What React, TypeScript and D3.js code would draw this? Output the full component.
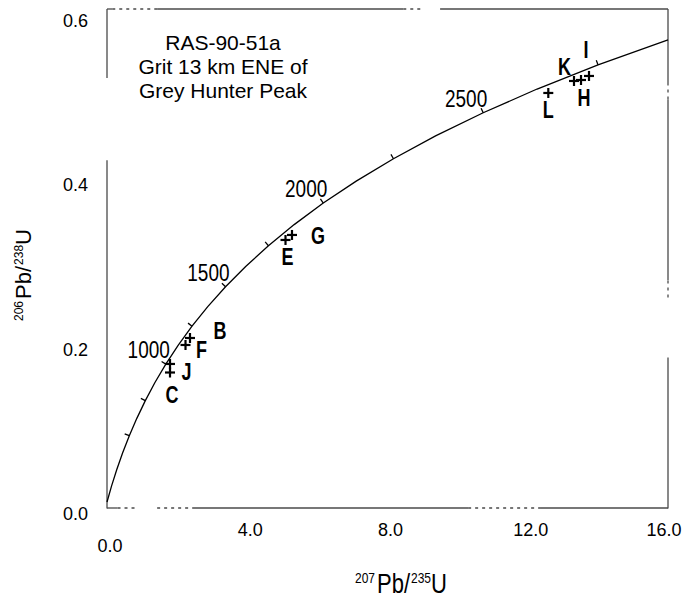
import React from "react";
import * as d3 from "d3";

// Concordia curve vertices (207Pb/235U, 206Pb/238U) by age (Ma)
const concordiaAges = [0, 125, 250, 375, 500, 625, 750, 875, 1000, 1125, 1250, 1375, 1500, 1625, 1750, 1875, 2000, 2125, 2250, 2375, 2500, 2625, 2750, 2877];
const concordiaX = [0, 0.131, 0.2792, 0.4468, 0.6362, 0.8507, 1.0931, 1.3673, 1.6774, 2.0282, 2.4249, 2.8736, 3.381, 3.9549, 4.6041, 5.3382, 6.1685, 7.1077, 8.1698, 9.3711, 10.7297, 12.2663, 14.0043, 16.0];
const concordiaY = [0, 0.0196, 0.0395, 0.0599, 0.0807, 0.1018, 0.1234, 0.1454, 0.1678, 0.1907, 0.214, 0.2378, 0.262, 0.2867, 0.3119, 0.3376, 0.3638, 0.3905, 0.4177, 0.4455, 0.4737, 0.5026, 0.532, 0.5624];

const tickAges = [500, 750, 1000, 1250, 1500, 1750, 2000, 2250, 2500, 2750];
const labelAges = [1000, 1500, 2000, 2500];

// Analyses
const pointNames = ["C", "J", "F", "B", "E", "G", "L", "K", "H", "I"];
const pointX = [1.797, 1.797, 2.239, 2.367, 5.091, 5.276, 12.586, 13.319, 13.519, 13.747];
const pointY = [0.1576, 0.168, 0.1911, 0.1996, 0.3189, 0.325, 0.4978, 0.5124, 0.5136, 0.5185];

const xTicks = [0, 4, 8, 12, 16];
const yTicks = [0, 0.2, 0.4, 0.6];

const titleLines = ["RAS-90-51a", "Grit 13 km ENE of", "Grey Hunter Peak"];

// label offsets (px) relative to each analysis marker
const labelOffset: Record<string, [number, number]> = {
  C: [2, 22.5], J: [16.5, 7.5], F: [16, 4.5], B: [30, -7], E: [2, 16.5],
  G: [26, 1], L: [0, 17], K: [-9.5, -14.5], H: [3, 18], I: [-3, -26],
};

const FONT = "'Liberation Sans', Arial, Helvetica, sans-serif";

type Seg = [number, number, boolean]; // from, to (axis units), dotted?

// worn-scan frame pieces, in axis units
const topSegs: Seg[] = [[0, 0.15, false], [0.15, 1.43, true], [1.43, 8.45, false], [8.45, 9.0, true], [9.5, 16, false]];
const bottomSegs: Seg[] = [[0, 0.3, false], [0.3, 0.85, true], [1.43, 2.45, true], [2.45, 10.3, false], [10.3, 12.35, true], [12.35, 16, false]];
const leftSegs: Seg[] = [[-0.008, 0.416, false], [0.516, 0.6, false]];
const rightSegs: Seg[] = [[-0.008, 0.176, false], [0.249, 0.27, true], [0.27, 0.49, false], [0.49, 0.51, true], [0.51, 0.6, false]];

export default function App() {
  const W = 683, H = 600;
  const left = 107, right = 668, top = 9;
  const x = d3.scaleLinear().domain([0, 16]).range([left, right]);
  const y = d3.scaleLinear().domain([0, 0.6]).range([502, top]);

  const pts: [number, number][] = concordiaX.map((v, i) => [v, concordiaY[i]]);
  const line = d3.line<[number, number]>().x(d => x(d[0])).y(d => y(d[1])).curve(d3.curveLinear);

  const tickMarks = tickAges.map(a => {
    const i = concordiaAges.indexOf(a);
    const px = x(concordiaX[i]), py = y(concordiaY[i]);
    const tx = x(concordiaX[i + 1]) - x(concordiaX[i - 1]);
    const ty = y(concordiaY[i + 1]) - y(concordiaY[i - 1]);
    const len = Math.hypot(tx, ty);
    const nx = ty / len, ny = -tx / len;
    return { a, px, py, nx, ny };
  });

  const yb = y(-0.0073);
  const frame = [
    ...topSegs.map(([a, b, d], i) => ({ k: "t" + i, x1: x(a), y1: top, x2: x(b), y2: top, d })),
    ...bottomSegs.map(([a, b, d], i) => ({ k: "b" + i, x1: x(a), y1: yb, x2: x(b), y2: yb, d })),
    ...leftSegs.map(([a, b, d], i) => ({ k: "l" + i, x1: left, y1: y(a), x2: left, y2: y(b), d })),
    ...rightSegs.map(([a, b, d], i) => ({ k: "r" + i, x1: right, y1: y(a), x2: right, y2: y(b), d })),
  ];

  return (
    <svg width={W} height={H} style={{ position: "absolute", left: 0, top: 0, background: "#fff" }} fontFamily={FONT}>
      <rect x={0} y={0} width={W} height={H} fill="#fff" />
      {/* frame */}
      <g stroke="#4a4a4a" strokeWidth={1.3} fill="none">
        {frame.map(s => (
          <line key={s.k} x1={s.x1} y1={s.y1} x2={s.x2} y2={s.y2} strokeDasharray={s.d ? "3,4" : undefined} />
        ))}
      </g>

      {/* y tick labels */}
      {yTicks.map(v => (
        <text key={"y" + v} x={88} y={y(v) + 12} textAnchor="end" dominantBaseline="central" fontSize={18}>
          {v.toFixed(1)}
        </text>
      ))}
      {/* x tick labels */}
      {xTicks.map(v => (
        <text key={"x" + v} x={Math.min(x(v) + 3, 664)} y={v === 0 ? 546 : 530} textAnchor="middle" dominantBaseline="central" fontSize={18}>
          {v.toFixed(1)}
        </text>
      ))}

      {/* concordia */}
      <path d={line(pts) || ""} fill="none" stroke="#000" strokeWidth={1.3} />
      {tickMarks.map(t => (
        <line key={"t" + t.a} x1={t.px} y1={t.py} x2={t.px + t.nx * 5} y2={t.py + t.ny * 5} stroke="#000" strokeWidth={1.3} />
      ))}
      {labelAges.map(a => {
        const i = concordiaAges.indexOf(a);
        const px = x(concordiaX[i]) + 4, py = y(concordiaY[i]) - 6;
        return (
          <text key={"a" + a} transform={`translate(${px},${py}) scale(1,1.3)`} textAnchor="end" fontSize={19}>
            {a}
          </text>
        );
      })}

      {/* analyses */}
      {pointNames.map((n, i) => {
        const px = x(pointX[i]), py = y(pointY[i]);
        const [dx, dy] = labelOffset[n];
        return (
          <g key={n}>
            <line x1={px - 5} y1={py} x2={px + 5} y2={py} stroke="#000" strokeWidth={2.2} />
            <line x1={px} y1={py - 5} x2={px} y2={py + 5} stroke="#000" strokeWidth={2.2} />
            <text transform={`translate(${px + dx},${py + dy + 8.4}) scale(1,1.3)`} textAnchor="middle" fontSize={18} fontWeight="bold">
              {n}
            </text>
          </g>
        );
      })}

      {/* sample annotation */}
      {titleLines.map((t, i) => (
        <text key={t} x={223} y={50 + i * 24} textAnchor="middle" fontSize={21}>
          {t}
        </text>
      ))}

      {/* axis titles */}
      <g transform="translate(355,593) scale(1,1.25)">
        <text fontSize={22}>
          <tspan fontSize={12} dy={-8}>207</tspan>
          <tspan dy={8} dx={2}>Pb/</tspan>
          <tspan fontSize={12} dy={-8} dx={1}>235</tspan>
          <tspan dy={8}>U</tspan>
        </text>
      </g>
      <g transform="translate(31,321) rotate(-90)">
        <text fontSize={22}>
          <tspan fontSize={12} dy={-8}>206</tspan>
          <tspan dy={8} dx={2}>Pb/</tspan>
          <tspan fontSize={12} dy={-8} dx={1}>238</tspan>
          <tspan dy={8}>U</tspan>
        </text>
      </g>
    </svg>
  );
}
